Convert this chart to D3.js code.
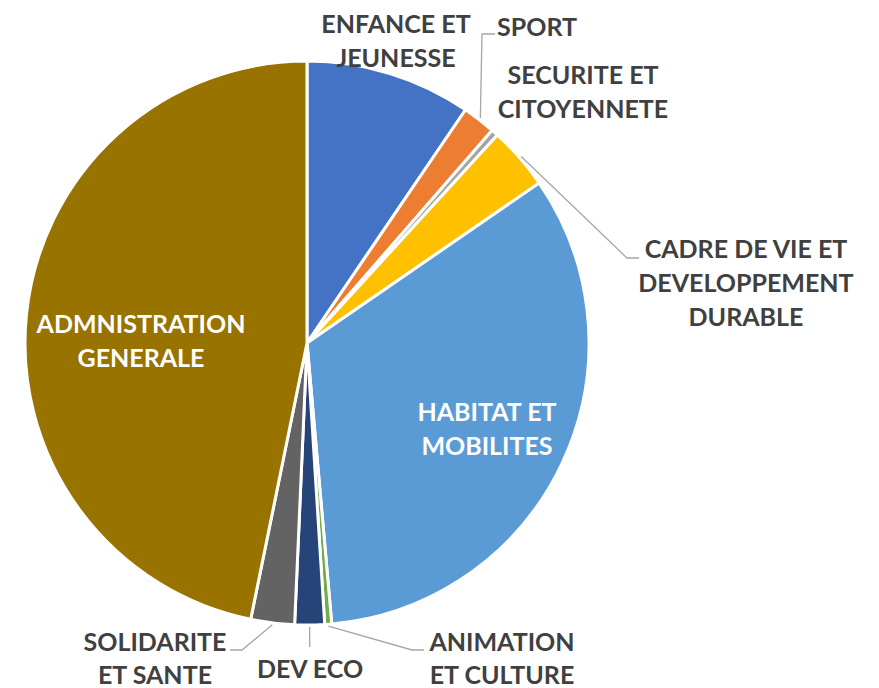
<!DOCTYPE html>
<html>
<head>
<meta charset="utf-8">
<script src="https://cdn.jsdelivr.net/npm/d3@7"></script>
<style>
  html, body { margin: 0; padding: 0; background: #fff; }
  svg { display: block; }
  text { font-family: Lato, "Open Sans", sans-serif; font-weight: 700; }
</style>
</head>
<body>
<svg id="chart" width="879" height="688"></svg>
<script>
// ---- data ----
const categories = [
  "ENFANCE ET JEUNESSE",
  "SPORT",
  "SECURITE ET CITOYENNETE",
  "CADRE DE VIE ET DEVELOPPEMENT DURABLE",
  "HABITAT ET MOBILITES",
  "ANIMATION ET CULTURE",
  "DEV ECO",
  "SOLIDARITE ET SANTE",
  "ADMNISTRATION GENERALE"
];
const values = [9.5, 1.9, 0.4, 3.6, 33.2, 0.4, 1.7, 2.5, 46.8];
const colors = ["#4472C4", "#ED7D31", "#A5A5A5", "#FFC000", "#5B9BD5", "#70AD47", "#264478", "#636363", "#997300"];
const labelLines = [
  ["ENFANCE ET", "JEUNESSE"],
  ["SPORT"],
  ["SECURITE ET", "CITOYENNETE"],
  ["CADRE DE VIE ET", "DEVELOPPEMENT", "DURABLE"],
  ["HABITAT ET", "MOBILITES"],
  ["ANIMATION", "ET CULTURE"],
  ["DEV ECO"],
  ["SOLIDARITE", "ET SANTE"],
  ["ADMNISTRATION", "GENERALE"]
];

// ---- layout ----
const cx = 307, cy = 343, R = 282;
// label anchor (center x, first baseline y, line step), inside flag, leader elbow/end points
const labelLayout = [
  {x: 396, y: 33, step: 34, inside: false, leader: null},
  {x: 537, y: 36, step: 34, inside: false, leader: [[482, 34], [495, 34]]},
  {x: 583, y: 84, step: 34, inside: false, leader: null},
  {x: 746, y: 258, step: 34, inside: false, leader: [[627, 258], [639, 258]]},
  {x: 487, y: 421, step: 34, inside: true, leader: null},
  {x: 502, y: 651, step: 33, inside: false, leader: [[412, 650], [424, 650]]},
  {x: 310, y: 678, step: 33, inside: false, leader: [[null, 647]]},
  {x: 155, y: 651, step: 33, inside: false, leader: [[242, 650], [230, 650]]},
  {x: 141, y: 333, step: 34, inside: true, leader: null}
];

const svg = d3.select("#chart");
const g = svg.append("g").attr("transform", `translate(${cx},${cy})`);

const pie = d3.pie().sort(null).value(d => d).startAngle(0).endAngle(2 * Math.PI);
const arcs = pie(values);
const arc = d3.arc().innerRadius(0).outerRadius(R);

g.selectAll("path.slice")
  .data(arcs)
  .join("path")
  .attr("class", "slice")
  .attr("d", arc)
  .attr("fill", (d, i) => colors[i])
  .attr("stroke", "#fff")
  .attr("stroke-width", 3)
  .attr("stroke-linejoin", "round");

// leader lines
const lineGen = d3.line();
arcs.forEach((d, i) => {
  const L = labelLayout[i];
  if (!L.leader) return;
  const mid = (d.startAngle + d.endAngle) / 2;
  const r0 = R + 2;
  const start = [cx + r0 * Math.sin(mid), cy - r0 * Math.cos(mid)];
  const pts = [start].concat(L.leader.map(p => [p[0] === null ? start[0] : p[0], p[1]]));
  svg.append("path")
    .attr("d", lineGen(pts))
    .attr("fill", "none")
    .attr("stroke", "#A6A6A6")
    .attr("stroke-width", 1.3);
});

// labels
labelLines.forEach((lines, i) => {
  const L = labelLayout[i];
  const t = svg.append("text")
    .attr("text-anchor", "middle")
    .attr("font-size", 25)
    .attr("fill", L.inside ? "#ffffff" : "#404040");
  lines.forEach((ln, j) => {
    t.append("tspan").attr("x", L.x).attr("y", L.y + j * L.step).text(ln);
  });
});
</script>
</body>
</html>
